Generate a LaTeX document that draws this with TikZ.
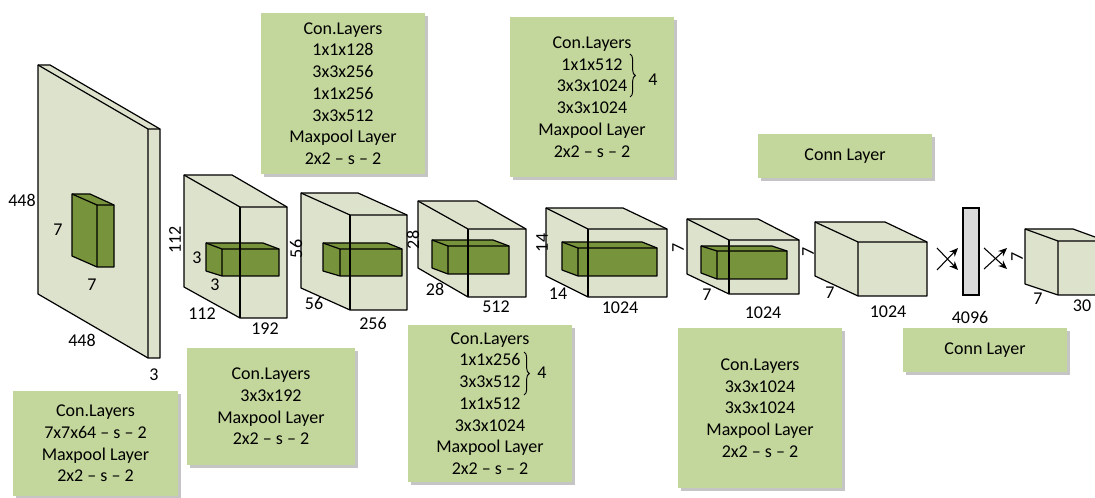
\documentclass[tikz,border=0pt]{standalone}
\usepackage{fontspec}
\setmainfont{Carlito}
\usetikzlibrary{arrows.meta,shadows,decorations.pathreplacing}
\definecolor{boxgreen}{RGB}{195,214,155}
\definecolor{cubefill}{RGB}{221,226,204}
\definecolor{kernelgreen}{RGB}{119,147,60}
\definecolor{bargray}{RGB}{217,217,217}
\tikzset{
  cube/.style={fill=cubefill, draw=black, line width=0.9pt, line join=round},
  kernel/.style={fill=kernelgreen, draw=black, line width=0.9pt, line join=round},
  seam/.style={draw=black, line width=0.9pt, line join=round},
  layerbox/.style={fill=boxgreen, align=center, inner sep=0pt,
    drop shadow={shadow xshift=2pt, shadow yshift=-2pt, fill=black!45}},
  dim/.style={inner sep=0pt},
  flow/.style={line width=0.8pt, -{Stealth[length=6.5pt,width=5.5pt]}},
  bracket/.style={line width=0.7pt, decorate, decoration={brace, amplitude=4pt}},
}

\begin{document}
\begin{tikzpicture}[x=0.75pt,y=0.75pt,yscale=-1,xscale=1,font=\fontsize{13.5}{16.3}\selectfont]
\useasboundingbox (0,0) rectangle (1095,498);
\clip (0,0) rectangle (1095,498);

%Shape: Cube [input 448x448x3]
\draw[cube] (38,65) -- (50,65) -- (160,129) -- (160,358) -- (148,358) -- (38,294) -- cycle;
\draw[seam] (38,65) -- (148,129) -- (160,129) (148,129) -- (148,358);
%Shape: Kernel 7x7
\draw[kernel] (72,194) -- (90,194) -- (114,205) -- (114,267) -- (97,267) -- (72,256) -- cycle;
\draw[seam] (72,194) -- (97,205) -- (114,205) (97,205) -- (97,267);

%Shape: Cube [112x112x192]
\draw[cube] (184,175) -- (232,175) -- (287,207) -- (287,318) -- (240,318) -- (184,287) -- cycle;
\draw[seam] (184,175) -- (240,207) -- (287,207);
\draw[kernel] (206,243) -- (263,243) -- (279,249) -- (279,276) -- (222,276) -- (206,271) -- cycle;
\draw[seam] (206,243) -- (222,249) -- (279,249) (222,249) -- (222,276);
\draw[seam] (240,207) -- (240,318);

%Shape: Cube [56x56x256]
\draw[cube] (301,193) -- (358,193) -- (407,215) -- (407,310) -- (350,310) -- (301,288) -- cycle;
\draw[seam] (301,193) -- (350,215) -- (407,215);
\draw[kernel] (323,243) -- (387,243) -- (402,249) -- (402,276) -- (340,276) -- (323,271) -- cycle;
\draw[seam] (323,243) -- (340,249) -- (402,249) (340,249) -- (340,276);
\draw[seam] (350,215) -- (350,310);

%Shape: Cube [28x28x512]
\draw[cube] (418,201) -- (477,201) -- (526,229) -- (526,297) -- (468,297) -- (418,268) -- cycle;
\draw[seam] (418,201) -- (468,229) -- (526,229);
\draw[kernel] (432,240) -- (493,240) -- (509,246) -- (509,274) -- (448,274) -- (432,268) -- cycle;
\draw[seam] (432,240) -- (448,246) -- (509,246) (448,246) -- (448,274);
\draw[seam] (468,229) -- (468,297);

%Shape: Cube [14x14x1024]
\draw[cube] (546,208) -- (623,208) -- (667,229) -- (667,297) -- (588,297) -- (546,276) -- cycle;
\draw[seam] (546,208) -- (588,229) -- (667,229);
\draw[kernel] (562,242) -- (642,242) -- (657,248) -- (657,276) -- (578,276) -- (562,270) -- cycle;
\draw[seam] (562,242) -- (578,248) -- (657,248) (578,248) -- (578,276);
\draw[seam] (588,229) -- (588,297);

%Shape: Cube [7x7x1024]
\draw[cube] (687,219) -- (758,219) -- (799,240) -- (799,294) -- (729,294) -- (687,274) -- cycle;
\draw[seam] (687,219) -- (729,240) -- (799,240);
\draw[kernel] (701,246) -- (772,246) -- (787,251) -- (787,279) -- (717,279) -- (701,273) -- cycle;
\draw[seam] (701,246) -- (717,251) -- (787,251) (717,251) -- (717,279);
\draw[seam] (729,240) -- (729,294);

%Shape: Cube [7x7x1024, no kernel]
\draw[cube] (815,222) -- (885,222) -- (927,242) -- (927,296) -- (858,296) -- (815,276) -- cycle;
\draw[seam] (815,222) -- (858,242) -- (927,242) (858,242) -- (858,296);

%Shape: Cube [output 7x7x30]
\draw[cube] (1025,229) -- (1073,229) -- (1106,241) -- (1106,295) -- (1058,295) -- (1025,284) -- cycle;
\draw[seam] (1025,229) -- (1058,241) -- (1106,241) (1058,241) -- (1058,295);

%Shape: Fully connected bar
\node[draw, fill=bargray, line width=0.9pt, minimum width=12pt, minimum height=65.25pt, inner sep=0pt] (fc) at (971,251.5) {};

% full connections
\coordinate (fa1) at (937,248);
\coordinate (fa2) at (958,270);
\coordinate (fa3) at (937,270);
\coordinate (fa4) at (958,248);
\coordinate (fb1) at (984,248);
\coordinate (fb2) at (1007,269);
\coordinate (fb3) at (984,269);
\coordinate (fb4) at (1007,248);
\draw[flow] (fa1) -- (fa2);
\draw[flow] (fa3) -- (fa4);
\draw[flow] (fb1) -- (fb2);
\draw[flow] (fb3) -- (fb4);

% Text Node
\node[dim] (in-h) at (22,200) {448};
\node[dim] (in-kh) at (58,230) {7};
\node[dim] (in-kw) at (92,285) {7};
\node[dim] (in-w) at (82,340) {448};
\node[dim] (in-d) at (154,375) {3};
% Text Node
\node[dim, rotate=90] (c2-h) at (175,240) {112};
\node[dim] (c2-kh) at (197,258) {3};
\node[dim] (c2-kw) at (215,285) {3};
\node[dim] (c2-w) at (202,314) {112};
\node[dim] (c2-d) at (265,329) {192};
% Text Node
\node[dim, rotate=90] (c3-h) at (296,249) {56};
\node[dim] (c3-w) at (314,303) {56};
\node[dim] (c3-d) at (373,323) {256};
% Text Node
\node[dim, rotate=90] (c4-h) at (413,240) {28};
\node[dim] (c4-w) at (435,289) {28};
\node[dim] (c4-d) at (496,307) {512};
% Text Node
\node[dim, rotate=90] (c5-h) at (542,243) {14};
\node[dim] (c5-w) at (558,294) {14};
\node[dim] (c5-d) at (620,308) {1024};
% Text Node
\node[dim, rotate=90] (c6-h) at (678,248) {7};
\node[dim] (c6-w) at (707,295) {7};
\node[dim] (c6-d) at (763,313) {1024};
% Text Node
\node[dim, rotate=90] (c7-h) at (808,252) {7};
\node[dim] (c7-w) at (830,293) {7};
\node[dim] (c7-d) at (888,312) {1024};
% Text Node
\node[dim] (fc-n) at (970,317) {4096};
% Text Node
\node[dim, rotate=90] (out-h) at (1017,257) {7};
\node[dim] (out-w) at (1038,299) {7};
\node[dim] (out-d) at (1082,306) {30};

% Layer boxes
\node[layerbox, minimum width=123.75pt, minimum height=78.75pt] (box1) at (95.5,443.5)
  {Con.Layers\\7x7x64 – s – 2\\Maxpool Layer\\2x2 – s – 2};
\node[layerbox, minimum width=126pt, minimum height=87.75pt] (box2) at (271,406.5)
  {Con.Layers\\3x3x192\\Maxpool Layer\\2x2 – s – 2};
\node[layerbox, minimum width=123pt, minimum height=120.75pt] (box3) at (343,93.5)
  {Con.Layers\\1x1x128\\3x3x256\\1x1x256\\3x3x512\\Maxpool Layer\\2x2 – s – 2};
\node[layerbox, minimum width=123pt, minimum height=117.75pt] (box4) at (490,403.5)
  {Con.Layers\\1x1x256\\3x3x512\\1x1x512\\3x3x1024\\Maxpool Layer\\2x2 – s – 2};
\node[layerbox, minimum width=123pt, minimum height=120pt] (box5) at (592,97)
  {Con.Layers\\1x1x512\\3x3x1024\\3x3x1024\\Maxpool Layer\\2x2 – s – 2};
\node[layerbox, minimum width=123pt, minimum height=120pt] (box6) at (760,408)
  {Con.Layers\\3x3x1024\\3x3x1024\\Maxpool Layer\\2x2 – s – 2};
\node[layerbox, minimum width=130.5pt, minimum height=33pt] (conn1) at (845,156) {Conn Layer};
\node[layerbox, minimum width=123pt, minimum height=33pt] (conn2) at (985,350) {Conn Layer};

% repeat braces
\coordinate (b4t) at (524,352);
\coordinate (b4b) at (524,395);
\draw[bracket] (b4t) -- (b4b);
\node[dim] (rep4) at (542,373) {4};
\coordinate (b5t) at (630,54);
\coordinate (b5b) at (630,97);
\draw[bracket] (b5t) -- (b5b);
\node[dim] (rep5) at (653,80) {4};

\end{tikzpicture}
\end{document}
